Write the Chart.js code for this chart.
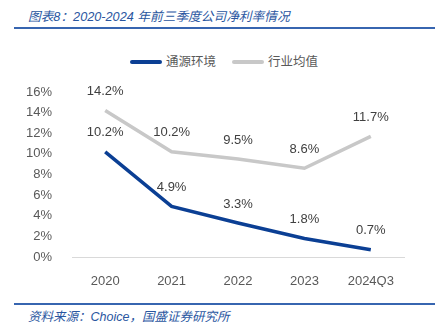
<!DOCTYPE html>
<html><head><meta charset="utf-8">
<script src="https://cdn.jsdelivr.net/npm/chart.js@4/dist/chart.umd.min.js"></script>
<style>
html,body{margin:0;padding:0;background:#fff;width:440px;height:334px;overflow:hidden;position:relative;font-family:"Liberation Sans","Noto Sans CJK SC",sans-serif;}
#title{position:absolute;left:28px;top:6px;font-size:12.7px;font-style:italic;color:#2A569F;white-space:nowrap;font-family:"Liberation Sans","Noto Sans CJK SC",sans-serif;}
.rule{position:absolute;left:14px;width:421px;height:2px;background:#3765B0;}
#src{position:absolute;left:28px;top:306px;font-size:12.5px;font-style:italic;color:#2A569F;white-space:nowrap;}
#legend{position:absolute;top:53px;left:0;width:440px;height:16px;}
.lg{position:absolute;top:0;font-size:12.5px;color:#595959;line-height:16px;white-space:nowrap;font-family:"Noto Sans CJK SC",sans-serif;}
.lg i{display:inline-block;width:32px;height:4px;border-radius:2px;vertical-align:middle;margin-right:4px;position:relative;top:-1px;}
canvas{position:absolute;left:0;top:0;}
</style></head>
<body>
<div id="title">图表8：2020-2024 年前三季度公司净利率情况</div>
<div class="rule" style="top:27px"></div>
<div id="legend"></div>
<div class="rule" style="top:303px"></div>
<div id="src">资料来源：Choice，国盛证券研究所</div>
<canvas id="c" width="440" height="334"></canvas>
<script>
const categories = ["2020","2021","2022","2023","2024Q3"];
const seriesNames = ["通源环境","行业均值"];
const companyMargin = [10.2, 4.9, 3.3, 1.8, 0.7];
const industryMargin = [14.2, 10.2, 9.5, 8.6, 11.7];
const seriesColors = ["#0B3F94", "#C8C8C8"];
const yTicks = [0,2,4,6,8,10,12,14,16];

// HTML legend
const legendPos = [130, 232];
const lg = document.getElementById('legend');
seriesNames.forEach((n,i)=>{
  const d=document.createElement('div');d.className='lg';d.style.left=legendPos[i]+'px';
  d.innerHTML='<i style="background:'+seriesColors[i]+'"></i>'+n;lg.appendChild(d);
});

const labelPlugin = {
  id:'dl',
  afterDatasetsDraw(chart){
    const ctx=chart.ctx;
    const xs=chart.scales.x, ys=chart.scales.y;
    ctx.save();
    ctx.font='13px "Liberation Sans", sans-serif';
    ctx.fillStyle='#404040';
    ctx.textAlign='center';ctx.textBaseline='middle';
    chart.data.datasets.forEach(ds=>{
      ds.data.forEach((v,i)=>{
        const x=xs.getPixelForValue(i), y=ys.getPixelForValue(v);
        ctx.fillText(v.toFixed(1)+'%', x, y-19);
      });
    });
    ctx.restore();
  }
};

new Chart(document.getElementById('c'),{
  type:'line',
  data:{labels:categories,datasets:[
    {label:seriesNames[0],data:companyMargin,borderColor:seriesColors[0],backgroundColor:seriesColors[0],borderWidth:3.5,pointRadius:0,tension:0,order:0},
    {label:seriesNames[1],data:industryMargin,borderColor:seriesColors[1],backgroundColor:seriesColors[1],borderWidth:3.5,pointRadius:0,tension:0,order:1}
  ]},
  options:{
    responsive:false,animation:false,devicePixelRatio:1,
    layout:{padding:{top:92,bottom:47,left:0,right:36}},
    plugins:{legend:{display:false},tooltip:{enabled:false}},
    scales:{
      x:{offset:true,grid:{display:false},border:{display:true,color:'#D9D9D9',width:1},
         ticks:{color:'#595959',font:{family:'"Liberation Sans", sans-serif',size:13},padding:9,maxRotation:0},
         afterFit(s){s.height=30;}},
      y:{min:0,max:16,grid:{display:false},border:{display:false},
         afterBuildTicks(s){s.ticks=yTicks.map(v=>({value:v}));},
         ticks:{color:'#595959',font:{family:'"Liberation Sans", sans-serif',size:13},padding:12,callback:v=>v+'%'},
         afterFit(s){s.width=72;}}
    }
  },
  plugins:[labelPlugin]
});
</script>
</body></html>
